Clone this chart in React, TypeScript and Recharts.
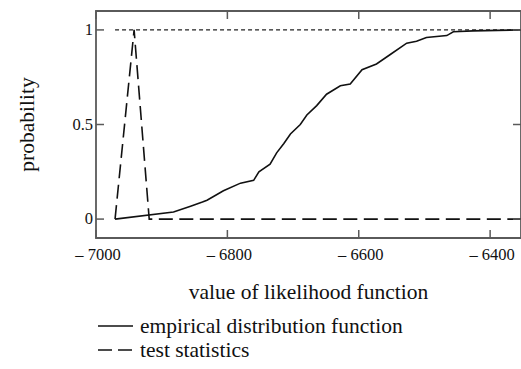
import React from 'react';
import { LineChart, Line, XAxis, YAxis, Legend, ReferenceArea } from 'recharts';

document.body.style.margin = '0';

// empirical distribution function
const ecdfX = [-6971, -6882, -6856, -6838, -6831, -6806, -6780, -6760, -6752, -6735, -6725, -6714, -6704, -6689, -6679, -6664, -6649, -6628, -6613, -6595, -6573, -6552, -6527, -6512, -6497, -6466, -6456, -6426, -6353];
const ecdfY = [0, 0.037, 0.068, 0.09, 0.10, 0.15, 0.19, 0.205, 0.25, 0.29, 0.35, 0.40, 0.45, 0.50, 0.55, 0.60, 0.66, 0.705, 0.714, 0.79, 0.82, 0.87, 0.93, 0.94, 0.96, 0.97, 0.99, 0.995, 1.0];

// test statistics
const testX = [-6971, -6942, -6919, -6353];
const testY = [0, 1, 0, 0];

// dotted reference level
const levelX = [-6971, -6353];
const levelY = [1, 1];

const xTicks = [-7000, -6800, -6600, -6400];
const yTicks = [0, 0.5, 1];
const xDomain = [-7000, -6353];
const yDomain = [-0.1, 1.1];

const ecdfData = ecdfX.map((x, i) => ({ x, y: ecdfY[i] }));
const testData = testX.map((x, i) => ({ x, y: testY[i] }));
const levelData = levelX.map((x, i) => ({ x, y: levelY[i] }));

const FONT = '"Liberation Serif", "Times New Roman", serif';
const BOX = '#5a5a5a';
const INK = '#111';

const fmtX = (v: number) => `\u2013 ${Math.abs(v)}`;
const fmtY = (v: number) => (v === 0.5 ? '0.5' : String(v));

const XTick = (props: any) => {
    const { x, y, payload } = props;
    return (
        <text x={x + 2} y={y + 18} textAnchor="middle" fill={INK} fontSize={16.5} style={{ fontFamily: FONT }}>
            {fmtX(payload.value)}
        </text>
    );
};

const YTick = (props: any) => {
    const { x, y, payload } = props;
    return (
        <text x={x} y={y + 5} textAnchor="end" fill={INK} fontSize={16.5} style={{ fontFamily: FONT }}>
            {fmtY(payload.value)}
        </text>
    );
};

const renderLegend = () => (
    <div style={{ fontFamily: FONT, fontSize: 21.5, color: INK }}>
        <div style={{ display: 'flex', alignItems: 'center', height: 24 }}>
            <svg width={42} height={10}>
                <line x1={0} y1={5} x2={35} y2={5} stroke={INK} strokeWidth={1.5} />
            </svg>
            <span>empirical distribution function</span>
        </div>
        <div style={{ display: 'flex', alignItems: 'center', height: 24 }}>
            <svg width={42} height={10}>
                <line x1={0} y1={5} x2={35} y2={5} stroke={INK} strokeWidth={1.5} strokeDasharray="14 6" />
            </svg>
            <span>test statistics</span>
        </div>
    </div>
);

export default function App() {
    return (
        <div style={{ fontFamily: FONT }}>
            <LineChart width={521} height={369} margin={{ top: 10, right: -1, left: 0, bottom: 101 }}>
                <XAxis
                    xAxisId="b"
                    dataKey="x"
                    type="number"
                    domain={xDomain}
                    ticks={xTicks}
                    interval={0}
                    allowDataOverflow
                    tickSize={-8}
                    tickMargin={12}
                    height={30}
                    axisLine={false}
                    tickLine={{ stroke: BOX, strokeWidth: 1.5 }}
                    tick={<XTick />}
                    label={{ value: 'value of likelihood function', position: 'bottom', offset: 16, fill: INK, fontSize: 21.5, fontFamily: FONT }}
                />
                <XAxis
                    xAxisId="t"
                    orientation="top"
                    dataKey="x"
                    type="number"
                    domain={xDomain}
                    ticks={xTicks}
                    interval={0}
                    allowDataOverflow
                    tickFormatter={() => ''}
                    tickSize={-8}
                    height={1}
                    axisLine={false}
                    tickLine={{ stroke: BOX, strokeWidth: 1.5 }}
                />
                <YAxis
                    yAxisId="l"
                    type="number"
                    domain={yDomain}
                    ticks={yTicks}
                    interval={0}
                    allowDataOverflow
                    tickSize={-8}
                    tickMargin={11}
                    width={96}
                    axisLine={false}
                    tickLine={{ stroke: BOX, strokeWidth: 1.5 }}
                    tick={<YTick />}
                    label={{ value: 'probability', angle: -90, position: 'insideLeft', offset: 26, fill: INK, fontSize: 21.5, fontFamily: FONT, style: { textAnchor: 'middle' } }}
                />
                <YAxis
                    yAxisId="r"
                    orientation="right"
                    type="number"
                    domain={yDomain}
                    ticks={yTicks}
                    interval={0}
                    allowDataOverflow
                    tickFormatter={() => ''}
                    tickSize={-8}
                    width={1}
                    axisLine={false}
                    tickLine={{ stroke: BOX, strokeWidth: 1.5 }}
                />
                <ReferenceArea
                    xAxisId="b"
                    yAxisId="l"
                    x1={xDomain[0]}
                    x2={xDomain[1]}
                    y1={yDomain[0]}
                    y2={yDomain[1]}
                    fill="none"
                    stroke={BOX}
                    strokeWidth={1.8}
                    ifOverflow="visible"
                />
                <Legend
                    layout="vertical"
                    align="center"
                    verticalAlign="middle"
                    content={renderLegend}
                    wrapperStyle={{ left: 98, top: 314, width: 400 }}
                />
                <Line
                    xAxisId="b"
                    yAxisId="l"
                    data={levelData}
                    dataKey="y"
                    stroke="#222"
                    strokeWidth={1.4}
                    strokeDasharray="4 3"
                    dot={false}
                    isAnimationActive={false}
                />
                <Line
                    xAxisId="b"
                    yAxisId="l"
                    data={testData}
                    dataKey="y"
                    stroke={INK}
                    strokeWidth={1.6}
                    strokeDasharray="14 6.5"
                    dot={false}
                    isAnimationActive={false}
                />
                <Line
                    xAxisId="b"
                    yAxisId="l"
                    data={ecdfData}
                    dataKey="y"
                    stroke={INK}
                    strokeWidth={1.6}
                    dot={false}
                    isAnimationActive={false}
                />
            </LineChart>
        </div>
    );
}
